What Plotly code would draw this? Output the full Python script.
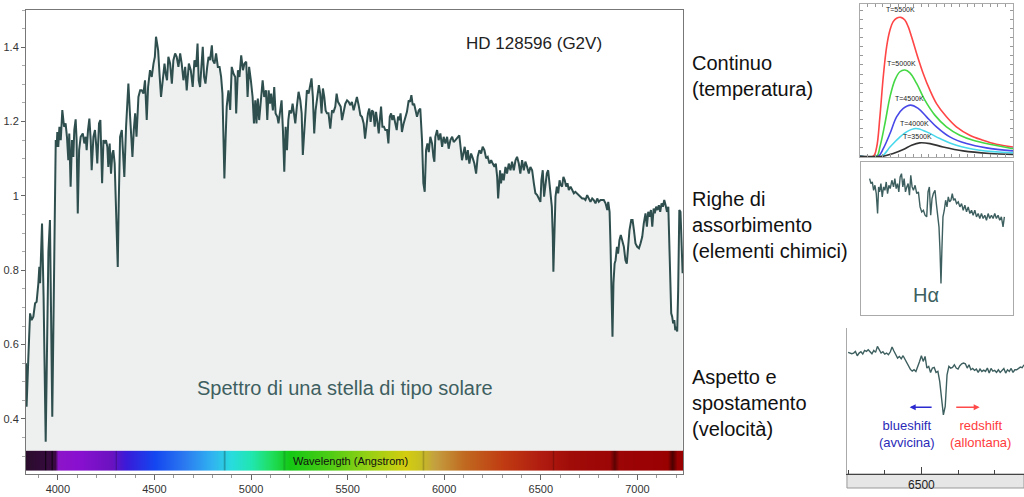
import plotly.graph_objects as go

# ---------------- main spectrum (HD 128596) ----------------
wl = [3835, 3838, 3847, 3856, 3864, 3873, 3882, 3890, 3899, 3904, 3908, 3918, 3926, 3937, 3951, 3959, 3971,
      3989, 3994, 3997, 4002, 4008, 4015, 4023, 4032, 4040, 4047, 4054, 4059, 4066, 4073, 4080, 4085, 4092,
      4097, 4103, 4110, 4118, 4129, 4137, 4144, 4149, 4156, 4163, 4170, 4175, 4184, 4192, 4199, 4204, 4213,
      4220, 4229, 4236, 4242, 4249, 4256, 4261, 4268, 4275, 4282, 4287, 4294, 4299, 4305, 4310, 4315, 4322,
      4331, 4337, 4344, 4353, 4358, 4365, 4374, 4386, 4393, 4400, 4407, 4412, 4417, 4426, 4434, 4443, 4451,
      4460, 4467, 4477, 4486, 4495, 4502, 4508, 4514, 4519, 4526, 4534, 4543, 4552, 4558, 4565, 4572, 4581,
      4590, 4598, 4607, 4615, 4624, 4633, 4641, 4650, 4659, 4667, 4678, 4688, 4698, 4707, 4716, 4723, 4729,
      4736, 4743, 4750, 4757, 4764, 4773, 4780, 4788, 4797, 4802, 4811, 4819, 4828, 4837, 4845, 4852, 4857,
      4862, 4868, 4874, 4883, 4892, 4900, 4909, 4918, 4923,
      4932, 4940, 4949, 4958, 4966, 4975, 4982, 4990, 4999, 5008, 5015, 5022, 5028, 5035, 5042, 5051, 5060,
      5068, 5077, 5084, 5091, 5098, 5104, 5113, 5120, 5127, 5136, 5142, 5151, 5158, 5165, 5172, 5179, 5186,
      5193, 5199, 5208, 5215, 5222, 5229, 5237, 5246, 5255, 5262, 5268, 5275, 5282, 5289, 5298, 5306, 5313,
      5320, 5327, 5334, 5343, 5351, 5358, 5365, 5372, 5379, 5386, 5393, 5401, 5410, 5419, 5427, 5436, 5443,
      5450, 5457, 5464, 5471, 5479, 5488, 5497, 5505, 5514, 5522, 5531, 5540, 5548, 5557, 5566, 5574, 5583,
      5590, 5597, 5605, 5612, 5619, 5626, 5633, 5640, 5647, 5654, 5661, 5668, 5673, 5680, 5688, 5695, 5704,
      5711, 5718, 5725, 5731, 5738, 5747, 5754, 5761, 5768, 5774, 5781, 5790, 5799, 5807, 5816, 5823, 5830,
      5837, 5844, 5850, 5859, 5868, 5876, 5885, 5892, 5899, 5906, 5913, 5920, 5928, 5937, 5944, 5949, 5954,
      5963, 5971, 5980, 5989, 5997, 6006, 6015, 6023, 6032, 6041, 6049,
      6058, 6078, 6092, 6106, 6115, 6122, 6130, 6139, 6148, 6156, 6165, 6173, 6182, 6191, 6199, 6208, 6217,
      6225, 6234, 6243, 6251, 6260, 6267, 6274, 6279, 6284, 6289, 6294, 6300, 6308, 6317, 6325, 6334, 6343,
      6351, 6360, 6369, 6377, 6386, 6394, 6403, 6412, 6420, 6429, 6438, 6446, 6455, 6464, 6472, 6481, 6489,
      6498, 6503, 6510, 6517, 6524, 6531, 6538, 6545, 6552, 6557, 6562, 6565, 6571, 6576, 6583, 6590, 6597,
      6603, 6610, 6617, 6624, 6631, 6638, 6645, 6654, 6662, 6671, 6679, 6688, 6697, 6705, 6714, 6723, 6731,
      6740, 6749, 6757, 6766, 6774, 6783, 6792, 6800, 6809, 6818, 6826, 6835, 6844, 6849, 6856, 6861, 6866,
      6871, 6876, 6882, 6887, 6894, 6900, 6907, 6914, 6921, 6930, 6938, 6945, 6952, 6959, 6968, 6975, 6982,
      6990, 6999, 7008, 7016, 7025, 7033, 7042, 7049, 7056, 7063, 7070, 7077, 7084, 7090, 7097, 7104, 7111,
      7118, 7125, 7132, 7139, 7146, 7153, 7160, 7165, 7170, 7175, 7180, 7185, 7191, 7196, 7201, 7206, 7211,
      7217, 7223, 7230, 7234]
flux = [0.550, 0.433, 0.563, 0.684, 0.666, 0.675, 0.711, 0.715, 0.765, 0.809, 0.765, 0.926, 0.730, 0.339, 0.850, 0.935, 0.406,
        1.150, 1.132, 1.172, 1.132, 1.186, 1.150, 1.231, 1.186, 1.195, 1.159, 1.096, 1.168, 1.025, 1.150, 1.105, 1.177, 1.206,
        1.150, 0.953, 1.123, 1.159, 1.168, 1.141, 1.159, 1.123, 1.177, 1.208, 1.150, 1.069, 1.159, 1.177, 1.132, 1.087, 1.195,
        1.204, 1.034, 1.150, 1.141, 1.150, 1.132, 1.078, 1.141, 1.060, 1.114, 1.123, 1.087, 0.998, 0.890, 0.809, 0.980, 1.159,
        1.177, 1.105, 1.051, 1.186, 1.240, 1.302, 1.213, 1.105, 1.177, 1.222, 1.159, 1.204, 1.266, 1.284, 1.284, 1.275, 1.311,
        1.204, 1.293, 1.338, 1.320, 1.356, 1.374, 1.428, 1.410, 1.392, 1.329, 1.266, 1.311, 1.356, 1.329, 1.311, 1.374, 1.356,
        1.302, 1.365, 1.383, 1.374, 1.347, 1.383, 1.356, 1.311, 1.347, 1.284, 1.356, 1.338, 1.293, 1.365, 1.347, 1.410, 1.311,
        1.293, 1.347, 1.401, 1.320, 1.302, 1.347, 1.374, 1.365, 1.405, 1.365, 1.356, 1.383, 1.347, 1.347, 1.320, 1.275, 1.177,
        1.047, 1.150, 1.240, 1.284, 1.231, 1.347, 1.329, 1.320, 1.222,
        1.338, 1.320, 1.378, 1.338, 1.356, 1.361, 1.266, 1.347, 1.311, 1.266, 1.195, 1.257, 1.195, 1.262, 1.204, 1.266, 1.311,
        1.266, 1.284, 1.204, 1.284, 1.248, 1.275, 1.230, 1.293, 1.222, 1.213, 1.195, 1.240, 1.257, 1.177, 1.065, 1.186, 1.123,
        1.204, 1.230, 1.222, 1.248, 1.222, 1.195, 1.240, 1.280, 1.257, 1.222, 1.110, 1.177, 1.230, 1.284, 1.275, 1.293, 1.316,
        1.266, 1.168, 1.230, 1.266, 1.298, 1.275, 1.222, 1.289, 1.266, 1.230, 1.222, 1.222, 1.181, 1.230, 1.226, 1.240, 1.275,
        1.253, 1.244, 1.240, 1.204, 1.226, 1.248, 1.257, 1.253, 1.244, 1.253, 1.230, 1.248, 1.266, 1.244, 1.217, 1.213, 1.195,
        1.154, 1.186, 1.222, 1.235, 1.199, 1.230, 1.226, 1.186, 1.226, 1.199, 1.168, 1.213, 1.240, 1.186, 1.186, 1.177, 1.177,
        1.141, 1.213, 1.222, 1.204, 1.217, 1.195, 1.177, 1.213, 1.204, 1.222, 1.172, 1.195, 1.213, 1.226, 1.257, 1.253, 1.271,
        1.244, 1.248, 1.235, 1.213, 1.230, 1.235, 1.150, 1.034, 1.011, 1.123, 1.141, 1.118, 1.159, 1.141, 1.105, 1.092, 1.159,
        1.177, 1.150, 1.168, 1.132, 1.159, 1.141, 1.159, 1.127, 1.150, 1.159, 1.145,
        1.150, 1.163, 1.096, 1.132, 1.096, 1.123, 1.087, 1.114, 1.101, 1.087, 1.060, 1.105, 1.123, 1.114, 1.132, 1.123, 1.101,
        1.105, 1.087, 1.096, 1.087, 1.078, 1.087, 1.051, 0.993, 1.051, 1.069, 1.034, 1.060, 1.042, 1.078, 1.060, 1.087, 1.069,
        1.092, 1.069, 1.096, 1.105, 1.087, 1.060, 1.096, 1.069, 1.092, 1.078, 1.060, 1.078, 1.069, 1.034, 1.007, 1.002, 0.993,
        0.984, 1.042, 1.069, 0.998, 1.025, 1.060, 1.069, 1.034, 1.007, 0.971, 0.890, 0.796, 0.908, 0.998, 1.025, 1.007, 1.042,
        1.029, 1.025, 1.051, 1.042, 1.025, 1.034, 1.016, 1.025, 1.016, 1.007, 1.011, 1.007, 1.002, 0.998, 0.993, 0.993, 0.989,
        1.002, 0.993, 0.984, 0.993, 0.989, 0.980, 0.993, 0.984, 0.989, 0.989, 0.989, 0.980, 0.962, 0.984, 0.957, 0.863, 0.729,
        0.621, 0.765, 0.818, 0.827, 0.863, 0.845, 0.881, 0.895, 0.881, 0.863, 0.827, 0.818, 0.863, 0.908, 0.935, 0.935, 0.908,
        0.872, 0.863, 0.859, 0.872, 0.890, 0.926, 0.953, 0.917, 0.957, 0.944, 0.962, 0.917, 0.966, 0.953, 0.971, 0.962, 0.975,
        0.957, 0.980, 0.971, 0.989, 0.975, 0.957, 0.971, 0.890, 0.765, 0.684, 0.675, 0.657, 0.666, 0.639, 0.648, 0.635, 0.747,
        0.962, 0.957, 0.872, 0.792]

x_range = [3835, 7236]
y_range = [0.252, 1.5]
y_tickvals = [0.4, 0.6, 0.8, 1.0, 1.2, 1.4]
y_ticktext = ["0.4", "0.6", "0.8", "1", "1.2", "1.4"]

# colour strip (visible spectrum), wavelength -> colour stops
strip_wl = [3835, 3985, 4000, 4100, 4280, 4350, 4500, 4650, 4800, 4900, 5000, 5100, 5200,
            5400, 5600, 5800, 5870, 5950, 6100, 6300, 6500, 6650, 7000, 7236]
strip_col = ['#2a0c2c', '#3a0a44', '#8c14c8', '#8a10d0', '#6a12c0', '#3a1ad8', '#1446f0', '#2a78f0',
             '#30b4f0', '#28dcdc', '#20e6b0', '#20de60', '#14c814', '#4ccc14', '#94d014', '#d4cc10',
             '#c8c020', '#c4a040', '#c06a20', '#c03c12', '#b01c10', '#a00c08', '#9a0204', '#980000']
strip_lines = [(3934, 6, 0.3), (3968, 6, 0.3), (4300, 6, 0.75), (4861, 8, 0.72), (5170, 10, 0.85),
               (5890, 8, 0.82), (6563, 7, 0.8), (6880, 24, 0.6), (7180, 25, 0.5)]
strip_y = [0.261, 0.288, 0.315]

# ---------------- inset 1: black-body curves ----------------
bb_labels = ["T=5500K", "T=5000K", "T=4500K", "T=4000K", "T=3500K"]
bb_colors = ['#ff4545', '#45d845', '#4848e8', '#48d8ec', '#333333']
bb_x = [
    [0, .087, .109, .130, .152, .174, .196, .217, .239, .267, .293, .315, .337, .370, .413, .457, .500, .565, .630, .717, .804, .891, 1.0],
    [0, .109, .130, .163, .196, .228, .261, .293, .326, .370, .424, .489, .565, .652, .739, .848, 1.0],
    [0, .120, .152, .196, .239, .283, .330, .380, .435, .500, .587, .696, .826, 1.0],
    [0, .141, .196, .250, .304, .365, .435, .522, .630, .783, 1.0],
    [0, .152, .217, .283, .337, .391, .457, .543, .674, .848, 1.0],
]
bb_y = [
    [0, 0, .061, .259, .522, .719, .829, .884, .906, .912, .895, .851, .785, .675, .544, .434, .346, .259, .193, .138, .105, .079, .061],
    [0, 0, .061, .215, .390, .500, .555, .566, .548, .478, .368, .270, .193, .138, .105, .079, .050],
    [0, 0, .050, .149, .259, .314, .336, .314, .259, .193, .127, .083, .055, .035],
    [0, 0, .061, .116, .160, .182, .160, .116, .072, .039, .022],
    [0, 0, .018, .044, .072, .088, .083, .061, .035, .018, .011],
]
bb_label_pos = [(.267, .965), (.272, .612), (.326, .378), (.359, .218), (.374, .128)]

# ---------------- inset 2: H-alpha region ----------------
ha_wl = [6348, 6352, 6356, 6360, 6364, 6368, 6372, 6375, 6378, 6382, 6386, 6390, 6394, 6398, 6402, 6406, 6410,
         6415, 6420, 6424, 6428, 6432, 6436, 6440, 6444, 6448, 6452, 6456, 6460, 6464, 6468, 6472, 6476, 6480,
         6485, 6490, 6495, 6500, 6505, 6510, 6515, 6520, 6524, 6528, 6532, 6536, 6540, 6545, 6549, 6553, 6557,
         6560, 6563, 6566, 6569, 6573, 6577, 6581, 6585, 6589, 6593, 6597, 6601, 6605, 6610, 6615, 6620, 6625,
         6630, 6635, 6640, 6645, 6650, 6655, 6660, 6665, 6670, 6675, 6680, 6685, 6690, 6695, 6700, 6705, 6710,
         6715, 6720, 6725, 6730, 6735, 6740, 6745, 6750, 6754]
ha_flux = [1.145, 1.130, 1.135, 1.110, 1.125, 1.100, 1.040, 1.120, 1.105, 1.130, 1.090, 1.120, 1.110, 1.135, 1.100,
           1.125, 1.115, 1.140, 1.120, 1.145, 1.115, 1.130, 1.105, 1.150, 1.160, 1.120, 1.145, 1.105, 1.120, 1.130,
           1.095, 1.155, 1.120, 1.110, 1.125, 1.100, 1.105, 1.060, 1.045, 1.050, 1.035, 1.030, 1.105, 1.120, 1.035,
           1.085, 1.100, 1.110, 1.070, 1.035, 1.000, 0.930, 0.830, 0.940, 1.030, 1.050, 1.080, 1.060, 1.090, 1.075,
           1.080, 1.100, 1.080, 1.085, 1.070, 1.075, 1.060, 1.070, 1.050, 1.065, 1.045, 1.060, 1.040, 1.050, 1.035,
           1.050, 1.030, 1.040, 1.025, 1.040, 1.025, 1.035, 1.020, 1.040, 1.025, 1.035, 1.025, 1.040, 1.025, 1.035,
           1.020, 1.030, 1.000, 1.030]

# ---------------- inset 3: line shift ----------------
vs_wl = [6300, 6305, 6310, 6315, 6320, 6325, 6330, 6335, 6340, 6345, 6350, 6355, 6360, 6365, 6370, 6375, 6380,
         6385, 6390, 6395, 6400, 6405, 6410, 6415, 6420, 6425, 6430, 6435, 6440, 6445, 6450, 6455, 6460, 6465,
         6470, 6475, 6480, 6485, 6490, 6495, 6500, 6505, 6510, 6515, 6520, 6525, 6530, 6535, 6540, 6545, 6550,
         6555, 6560, 6565, 6570, 6575, 6580, 6585, 6590, 6595, 6600, 6605, 6610, 6615, 6620, 6625, 6630, 6635,
         6640, 6645, 6650, 6655, 6660, 6665, 6670, 6675, 6680, 6685, 6690, 6695, 6700, 6705, 6710, 6715, 6720,
         6725, 6730, 6735, 6740, 6745, 6750, 6755, 6760, 6765, 6770, 6775, 6780]
vs_flux = [1.102, 1.100, 1.098, 1.100, 1.105, 1.092, 1.100, 1.104, 1.097, 1.108, 1.105, 1.110, 1.102, 1.098, 1.108,
           1.102, 1.120, 1.110, 1.100, 1.104, 1.097, 1.100, 1.095, 1.103, 1.118, 1.106, 1.095, 1.085, 1.090, 1.083,
           1.092, 1.082, 1.070, 1.058, 1.051, 1.046, 1.050, 1.045, 1.058, 1.075, 1.092, 1.075, 1.090, 1.055, 1.060,
           1.042, 1.055, 1.057, 1.042, 1.045, 1.015, 0.965, 0.915, 0.940, 1.035, 1.060, 1.055, 1.057, 1.065, 1.055,
           1.052, 1.062, 1.068, 1.070, 1.068, 1.055, 1.065, 1.050, 1.054, 1.048, 1.052, 1.042, 1.052, 1.045, 1.049,
           1.045, 1.055, 1.040, 1.054, 1.046, 1.048, 1.042, 1.050, 1.042, 1.048, 1.054, 1.040, 1.050, 1.045, 1.054,
           1.042, 1.050, 1.050, 1.055, 1.058, 1.056, 1.065]

# ================= helpers (styling only) =================
def hex2rgb(h):
    h = h.lstrip('#')
    return [int(h[i:i + 2], 16) for i in (0, 2, 4)]

def base_rgb(l):
    l = min(max(l, strip_wl[0]), strip_wl[-1])
    for i in range(len(strip_wl) - 1):
        if strip_wl[i] <= l <= strip_wl[i + 1]:
            t = (l - strip_wl[i]) / (strip_wl[i + 1] - strip_wl[i])
            a, b = hex2rgb(strip_col[i]), hex2rgb(strip_col[i + 1])
            return [a[k] + (b[k] - a[k]) * t for k in range(3)]
    return hex2rgb(strip_col[-1])

def rgbstr(c):
    return 'rgb(%d,%d,%d)' % tuple(int(round(v)) for v in c)

lo, hi = strip_wl[0], strip_wl[-1]
stops = []
for w in strip_wl:
    if not any(abs(w - lc) <= lw for lc, lw, _ in strip_lines):
        stops.append((w, base_rgb(w)))
for lc, lw, f in strip_lines:
    stops.append((lc - lw, base_rgb(lc - lw)))
    stops.append((lc, [v * f for v in base_rgb(lc)]))
    stops.append((lc + lw, base_rgb(lc + lw)))
stops = sorted([(min(max(w, lo), hi), c) for w, c in stops], key=lambda s: s[0])
cscale = []
last = -1
for w, c in stops:
    p = (w - lo) / (hi - lo)
    if p <= last:
        p = last + 1e-6
    cscale.append([min(p, 1.0), rgbstr(c)])
    last = p
cscale[0][0] = 0.0
cscale[-1][0] = 1.0

FONT = "Liberation Sans, Arial, sans-serif"
LINE = '#2f4f4f'
SLATE = '#3e5f5f'

fig = go.Figure()

# main spectrum: baseline at strip top, filled area to spectrum
fig.add_trace(go.Scatter(x=[wl[0], wl[-1]], y=[strip_y[-1], strip_y[-1]], mode='lines',
                         line=dict(width=0), hoverinfo='skip', showlegend=False,
                         xaxis='x', yaxis='y'))
fig.add_trace(go.Scatter(x=wl, y=flux, mode='lines', line=dict(color=LINE, width=2),
                         fill='tonexty', fillcolor='#eef0f0', showlegend=False,
                         xaxis='x', yaxis='y'))
fig.add_trace(go.Heatmap(x=[lo, hi], y=strip_y, z=[[lo, hi], [lo, hi]], zmin=lo, zmax=hi,
                         colorscale=cscale, zsmooth='best', showscale=False, hoverinfo='skip',
                         xaxis='x', yaxis='y'))

# inset 1
for i in range(len(bb_labels)):
    fig.add_trace(go.Scatter(x=bb_x[i], y=bb_y[i], mode='lines', line=dict(color=bb_colors[i], width=1.6),
                             line_shape='spline', showlegend=False, xaxis='x2', yaxis='y2'))
# inset 2
fig.add_trace(go.Scatter(x=ha_wl, y=ha_flux, mode='lines', line=dict(color=SLATE, width=1.4),
                         showlegend=False, xaxis='x3', yaxis='y3'))
# inset 3
fig.add_trace(go.Scatter(x=vs_wl, y=vs_flux, mode='lines', line=dict(color=SLATE, width=1.4),
                         showlegend=False, xaxis='x4', yaxis='y4'))

ann = []
ann.append(dict(text="HD 128596 (G2V)", x=0.5215, y=0.9356, xref='paper', yref='paper', showarrow=False,
                font=dict(size=17, color='#222', family=FONT)))
ann.append(dict(text="Spettro di una stella di tipo solare", x=0.3369, y=0.1932, xref='paper', yref='paper',
                showarrow=False, font=dict(size=20, color=SLATE, family=FONT)))
ann.append(dict(text="Wavelength (Angstrom)", x=5517, y=0.288, xref='x', yref='y', showarrow=False,
                font=dict(size=11, color='#111', family=FONT)))
for txt, yc in [("Continuo<br>(temperatura)", 0.847),
                ("Righe di<br>assorbimento<br>(elementi chimici)", 0.5473),
                ("Aspetto e<br>spostamento<br>(velocità)", 0.190)]:
    ann.append(dict(text=txt, x=0.6738, y=yc, xref='paper', yref='paper', xanchor='left', yanchor='middle',
                    align='left', showarrow=False, font=dict(size=20, color='#111', family=FONT)))
for lab, (px, py) in zip(bb_labels, bb_label_pos):
    ann.append(dict(text=lab, x=px, y=py, xref='x2', yref='y2', showarrow=False,
                    font=dict(size=7, color='#222', family=FONT)))
ann.append(dict(text="Hα", x=0.919, y=0.4064, xref='paper', yref='paper', showarrow=False,
                font=dict(size=20, color=SLATE, family=FONT)))
# shift arrows
ann.append(dict(text='', x=6468, y=0.938, ax=6532, ay=0.938, xref='x4', yref='y4', axref='x4', ayref='y4',
                showarrow=True, arrowhead=2, arrowsize=0.8, arrowwidth=1.5, arrowcolor='#2a2ad0'))
ann.append(dict(text='', x=6659, y=0.938, ax=6591, ay=0.938, xref='x4', yref='y4', axref='x4', ayref='y4',
                showarrow=True, arrowhead=2, arrowsize=0.8, arrowwidth=1.5, arrowcolor='#ff4a4a'))
ann.append(dict(text="blueshift<br>(avvicina)", x=6462, y=0.858, xref='x4', yref='y4', showarrow=False,
                font=dict(size=13, color='#2a2ab8', family=FONT)))
ann.append(dict(text="redshift<br>(allontana)", x=6662, y=0.858, xref='x4', yref='y4', showarrow=False,
                font=dict(size=13, color='#ff3c3c', family=FONT)))

shapes = [dict(type='rect', xref='paper', yref='paper', x0=0.8271, x1=1.0, y0=0.0181, y1=0.0463,
               fillcolor='#e6e6e6', line=dict(color='#999', width=1), layer='below')]

W, H = 1024, 497
fig.update_layout(
    width=W, height=H, margin=dict(l=0, r=0, t=0, b=0, autoexpand=False), autosize=False,
    paper_bgcolor='white', plot_bgcolor='white', showlegend=False,
    annotations=ann, shapes=shapes,
    xaxis=dict(domain=[26 / W, 683 / W], range=x_range, showgrid=False, zeroline=False, automargin=False,
               showline=True, linecolor='#777', mirror=True, ticks='outside', ticklen=5, tickcolor='#666',
               tick0=4000, dtick=500, tickfont=dict(size=11, color='#333', family=FONT),
               minor=dict(ticks='outside', dtick=100, ticklen=3, tickcolor='#999'), anchor='y'),
    yaxis=dict(domain=[23 / H, 487 / H], range=y_range, showgrid=False, zeroline=False, automargin=False,
               showline=True, linecolor='#777', mirror=True, ticks='outside', ticklen=4, tickcolor='#666',
               tickvals=y_tickvals, ticktext=y_ticktext, tickfont=dict(size=11, color='#333', family=FONT),
               minor=dict(ticks='outside', dtick=0.05, ticklen=3, tickcolor='#aaa'), anchor='x'),
    xaxis2=dict(domain=[860 / W, 1013 / W], range=[0, 1], showgrid=False, zeroline=False, automargin=False,
                showline=True, linecolor='#aaa', mirror='ticks', ticks='inside', ticklen=3, tickcolor='#999',
                dtick=0.05, showticklabels=False, anchor='y2'),
    yaxis2=dict(domain=[340 / H, 493 / H], range=[-0.005, 1.0], showgrid=False, zeroline=False, automargin=False,
                showline=True, linecolor='#aaa', mirror='ticks', ticks='inside', ticklen=3, tickcolor='#999',
                dtick=0.06, showticklabels=False, anchor='x2'),
    xaxis3=dict(domain=[861 / W, 1013 / W], range=[6322, 6780], showgrid=False, zeroline=False, automargin=False,
                showline=True, linecolor='#aaa', mirror=True, ticks='', showticklabels=False, anchor='y3'),
    yaxis3=dict(domain=[182 / H, 335 / H], range=[0.735, 1.195], showgrid=False, zeroline=False, automargin=False,
                showline=True, linecolor='#aaa', mirror=True, ticks='', showticklabels=False, anchor='x3'),
    xaxis4=dict(domain=[847 / W, 1.0], range=[6297, 6780], showgrid=False, zeroline=False, automargin=False,
                showline=True, linecolor='#444', ticks='inside', ticklen=7, tickcolor='#444',
                tickvals=[6500], ticktext=['6500'], tickfont=dict(size=12, color='#222', family=FONT),
                minor=dict(ticks='inside', tick0=6300, dtick=100, ticklen=4, tickcolor='#444'), anchor='y4'),
    yaxis4=dict(domain=[23 / H, 169 / H], range=[0.738, 1.175], showgrid=False, zeroline=False, automargin=False,
                showline=True, linecolor='#aaa', mirror=True, ticks='', showticklabels=False, anchor='x4'),
)

fig.write_html("out.html", config={'displayModeBar': False},
               post_script="document.body.style.margin='0';document.body.style.padding='0';"
                           "document.body.style.overflow='hidden';")
